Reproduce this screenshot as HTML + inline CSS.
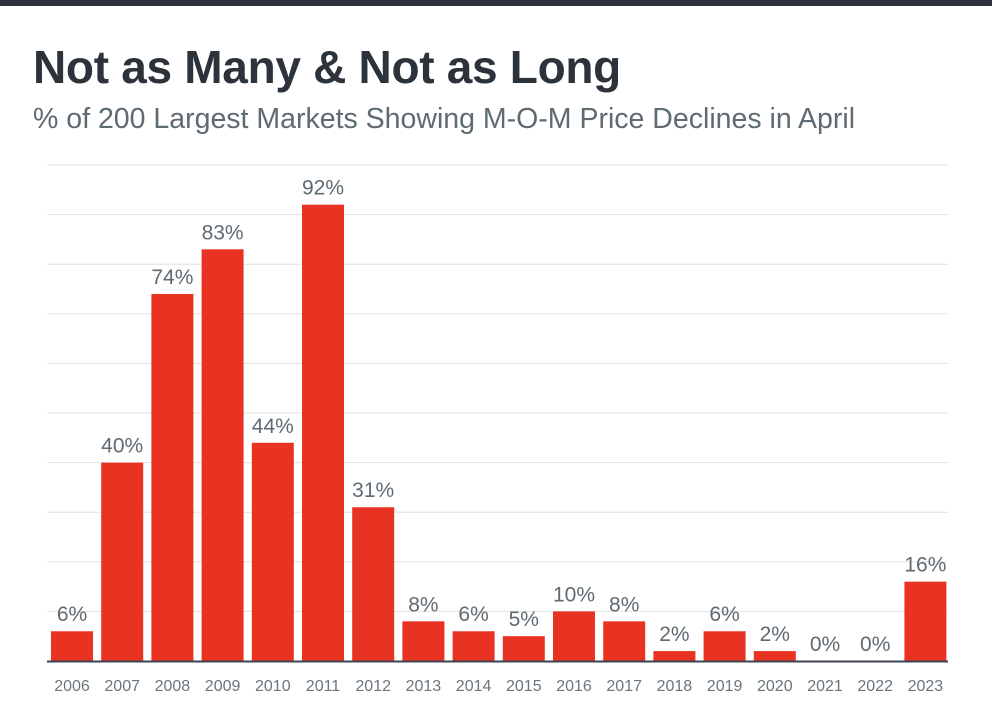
<!DOCTYPE html>
<html><head><meta charset="utf-8"><style>
body{margin:0;background:#fff;width:992px;height:708px;overflow:hidden;font-family:"Liberation Sans",sans-serif}
#topbar{position:absolute;left:0;top:0;width:992px;height:6px;background:#2d333b}
#title{position:absolute;left:33px;top:40px;font-size:46px;font-weight:bold;color:#2d333b;letter-spacing:-0.3px}
#subtitle{position:absolute;left:33px;top:103px;font-size:28.5px;color:#5f6b73}
svg{position:absolute;left:0;top:0}
</style></head><body>
<div id="topbar"></div>
<div id="title">Not as Many &amp; Not as Long</div>
<div id="subtitle">% of 200 Largest Markets Showing M-O-M Price Declines in April</div>
<svg id="chart" width="992" height="708"></svg>
<script>
const categories=["2006","2007","2008","2009","2010","2011","2012","2013","2014","2015","2016","2017","2018","2019","2020","2021","2022","2023"];
const values=[6,40,74,83,44,92,31,8,6,5,10,8,2,6,2,0,0,16];
const gridTicks=[0,10,20,30,40,50,60,70,80,90,100];
const NS="http://www.w3.org/2000/svg";
const svg=document.getElementById('chart');
const x0=47,x1=948,base=661,pxPer=4.96,pitch=50.2,bw=42,firstX=51;
const y=v=>base-v*pxPer;
const xb=i=>firstX+i*pitch;
function mk(t,a){const e=document.createElementNS(NS,t);for(const k in a)e.setAttribute(k,a[k]);svg.appendChild(e);return e;}
gridTicks.forEach(t=>{if(t===0)return;
const l=mk('line',{x1:x0,x2:x1,y1:y(t),y2:y(t),stroke:'#e3e3e3','stroke-width':1});

});
values.forEach((v,i)=>{
const r=mk('rect',{x:xb(i),y:y(v),width:bw,height:v*pxPer,fill:'#e83323'});


const lb=mk('text',{x:xb(i)+bw/2,y:y(v)-10,'text-anchor':'middle','font-size':'21','fill':'#5f6b73','font-family':'Liberation Sans, sans-serif'});
lb.textContent=v+'%';


const cl=mk('text',{x:xb(i)+bw/2,y:691,'text-anchor':'middle','font-size':'16','fill':'#6b757d','font-family':'Liberation Sans, sans-serif'});
cl.textContent=categories[i];


});
const ax=mk('line',{x1:x0,x2:x1,y1:base+0.5,y2:base+0.5,stroke:'#3d4450','stroke-width':2});


</script>
</body></html>
